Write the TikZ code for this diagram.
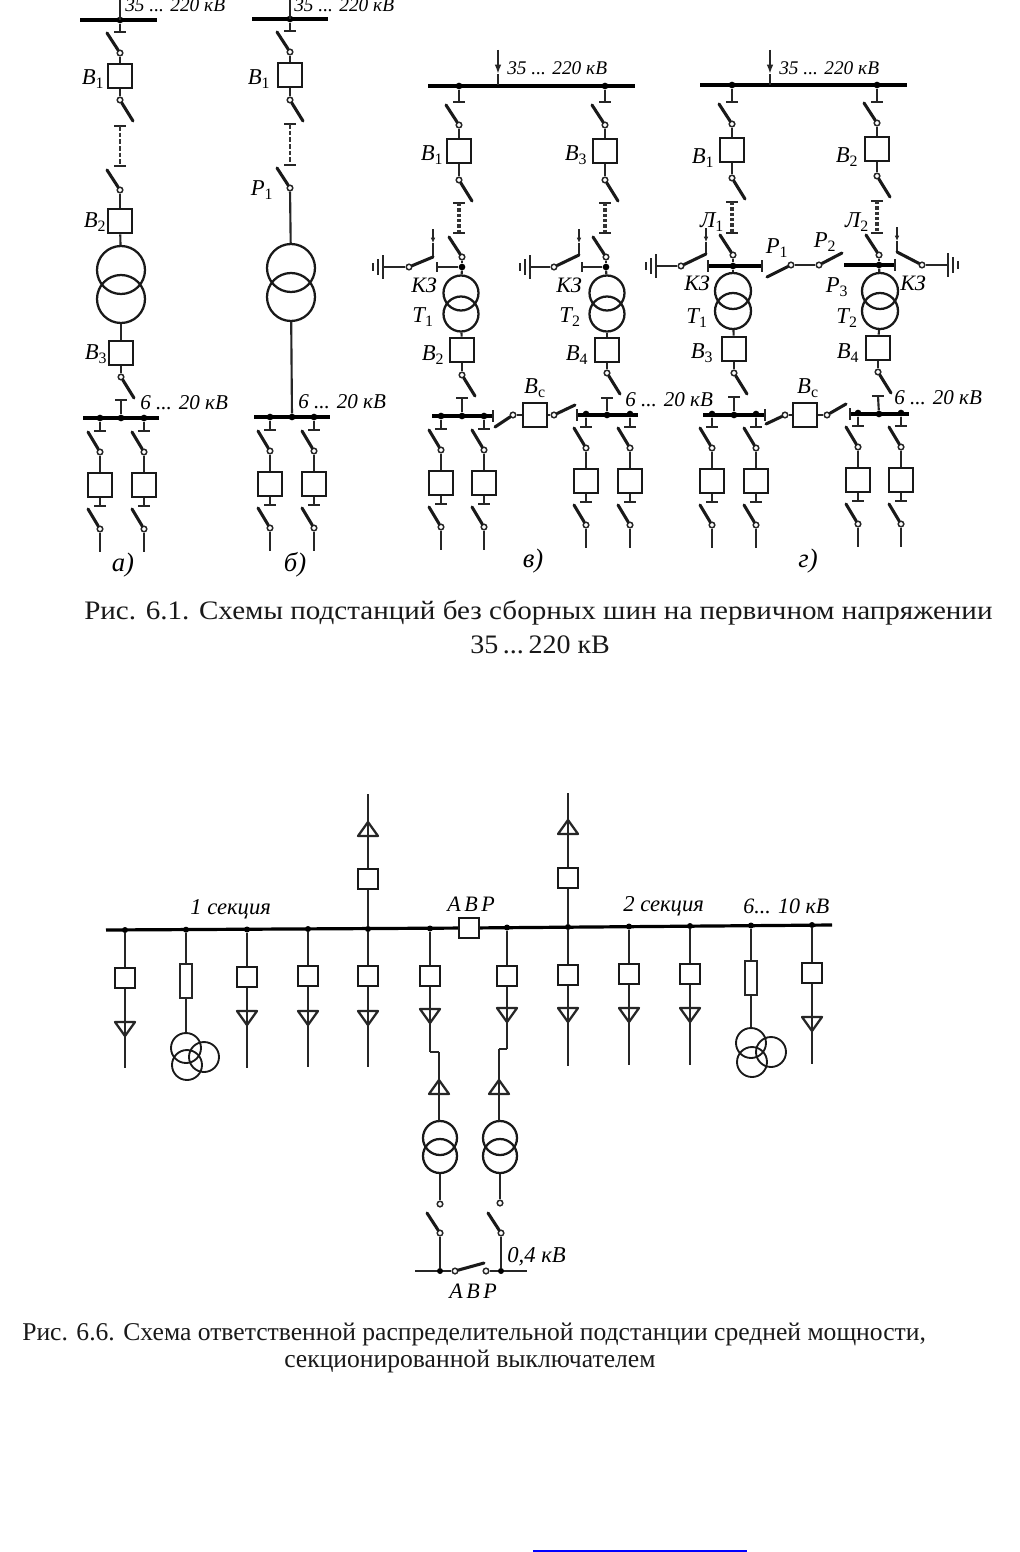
\documentclass[tikz,border=0pt]{standalone}
\usepackage{fontspec}
\setmainfont{Liberation Serif}
\usetikzlibrary{arrows.meta}
\newcounter{lc}
\tikzset{
 wire/.style={line width=1.6pt,black!85},
 busl/.style={line width=3pt,black},
 busn/.style={line width=2.4pt,black},
 blade/.style={line width=2.3pt,black!90,line cap=round},
 tbs/.style={line width=1.7pt,black!85},
 dsha/.style={line width=1.5pt,black!80,dash pattern=on 3.5pt off 1.5pt},
 dshb/.style={line width=2.4pt,black!80,dash pattern=on 2.4pt off 1.6pt},
 brk/.style={draw=black!90,fill=white,line width=2pt,minimum size=18pt,inner sep=0pt},
 brs/.style={draw=black!90,fill=white,line width=1.8pt,minimum size=15pt,inner sep=0pt},
 fuse/.style={draw=black!85,fill=white,line width=1.4pt,minimum width=9pt,minimum height=26pt,inner sep=0pt},
 ct/.style={circle,draw=black!85,fill=white,line width=1.1pt,minimum size=4.2pt,inner sep=0pt},
 dot/.style={circle,fill=black,minimum size=5pt,inner sep=0pt},
 trc/.style={circle,draw=black!90,line width=1.7pt,inner sep=0pt},
 lb/.style={inner sep=0pt,font=\itshape\fontsize{14.5}{18}\selectfont,text=black},
 lbs/.style={inner sep=0pt,font=\itshape\fontsize{15.8}{18}\selectfont,text=black},
 lbk/.style={inner sep=0pt,font=\itshape\fontsize{16.5}{18}\selectfont,text=black},
 lbc/.style={inner sep=0pt,font=\itshape\fontsize{17}{20}\selectfont,text=black},
 lbb/.style={inner sep=0pt,font=\itshape\fontsize{17}{20}\selectfont,text=black},
 lbf/.style={inner sep=0pt,font=\itshape\fontsize{20}{22}\selectfont,text=black},
 captxt/.style={inner sep=0pt,font=\fontsize{20}{22}\selectfont,text=black!90},
 captxs/.style={inner sep=0pt,font=\fontsize{19.2}{22}\selectfont,text=black!90},
}
% horizontal crossbar of a contact
\newcommand{\tbr}[2]{\draw[tbs] (#1-6,#2) -- (#1+6,#2);}
% upper chain: id,x,busY,tb1,c1,boxY,c2,tb2
\newcommand{\upc}[8]{%
 \node[dot] (#1d) at (#2,#3) {};
 \coordinate (#1t) at (#2,#4);
 \draw[wire] (#1d) -- (#1t);
 \tbr{#2}{#4}
 \node[ct] (#1c) at (#2,#5) {};
 \coordinate (#1k) at (#2-13,#5-20);
 \draw[blade] (#1c) -- (#1k);
 \node[brk] (#1b) at (#2,#6) {};
 \draw[wire] (#1c) -- (#1b);
 \node[ct] (#1e) at (#2,#7) {};
 \draw[wire] (#1b) -- (#1e);
 \coordinate (#1m) at (#2+13,#7+21);
 \draw[blade] (#1e) -- (#1m);
 \coordinate (#1v) at (#2,#8);
 \tbr{#2}{#8}
}
% dashed link: [style],id,x,y1,y2
\newcommand{\dsh}[5][dsha]{%
 \coordinate (#2p) at (#3,#4); \coordinate (#2q) at (#3,#5);
 \draw[#1] (#2p) -- (#2q);
 \tbr{#3}{#5}
}
% blade to contact circle: id,x,c
\newcommand{\swc}[3]{%
 \node[ct] (#1) at (#2,#3) {};
 \coordinate (#1k) at (#2-13,#3-20);
 \draw[blade] (#1) -- (#1k);
}
% transformer: id,x,y1,y2,r
\newcommand{\trf}[5]{%
 \node[trc,minimum size={#5*1.5pt}] (#11) at (#2,#3) {};
 \node[trc,minimum size={#5*1.5pt}] (#12) at (#2,#4) {};
}
% box under transformer: id,x,boxY,c,tb
\newcommand{\lowb}[5]{%
 \node[brk] (#1b) at (#2,#3) {};
 \node[ct] (#1c) at (#2,#4) {};
 \draw[wire] (#1b) -- (#1c);
 \coordinate (#1m) at (#2+13,#4+21);
 \draw[blade] (#1c) -- (#1m);
 \coordinate (#1t) at (#2,#5);
 \tbr{#2}{#5}
}
% feeder: id,x,ybus
\newcommand{\fdr}[3]{%
 \node[dot] (#1d) at (#2,#3) {};
 \coordinate (#1t) at (#2,#3+13);
 \draw[wire] (#1d) -- (#1t);
 \tbr{#2}{#3+13}
 \node[ct] (#1c) at (#2,#3+34) {};
 \coordinate (#1k) at (#2-12,#3+14);
 \draw[blade] (#1c) -- (#1k);
 \node[brk] (#1b) at (#2,#3+67) {};
 \draw[wire] (#1c) -- (#1b);
 \coordinate (#1u) at (#2,#3+88);
 \draw[wire] (#1b) -- (#1u);
 \tbr{#2}{#3+88}
 \node[ct] (#1e) at (#2,#3+111) {};
 \coordinate (#1l) at (#2-12,#3+91);
 \draw[blade] (#1e) -- (#1l);
 \coordinate (#1f) at (#2,#3+134);
 \draw[wire] (#1e) -- (#1f);
}
% feed arrow with dart in the stem: id,x,top,dart,bus
\newcommand{\feed}[5]{%
 \coordinate (#1a) at (#2,#3); \coordinate (#1b) at (#2,#4); \coordinate (#1c) at (#2,#5);
 \draw[wire,-{Latex[length=7pt,width=5pt]}] (#1a) -- (#1b);
 \draw[wire] (#1b) -- (#1c);
}
% earthing switch: id,vx,ytop,ybot,cx,y,gx,dir
\newcommand{\kz}[8]{%
 \coordinate (#1a) at (#2,#3); \coordinate (#1b) at (#2,#4); \coordinate (#1s) at (#2,#3+14);
 \draw[wire,-{Latex[length=4pt,width=3.5pt]}] (#1a) -- (#1s);
 \draw[wire] (#1s) -- (#1b);
 \node[ct] (#1c) at (#5,#6) {};
 \draw[blade] (#1c) -- (#1b);
 \coordinate (#1g) at (#7,#6);
 \draw[wire] (#1c) -- (#1g);
 \draw[tbs] (#7,#6-12) -- (#7,#6+12);
 \draw[tbs] (#7+#8*5,#6-8) -- (#7+#8*5,#6+8);
 \draw[tbs] (#7+#8*10,#6-4) -- (#7+#8*10,#6+4);
}
% second figure: branch: id,x,busY,boxY,triY,endY
\newcommand{\brn}[6]{%
 \node[dot,minimum size=4.5pt] (#1d) at (#2,#3) {};
 \node[brs] (#1b) at (#2,#4) {};
 \draw[wire] (#1d) -- (#1b);
 \coordinate (#1f) at (#2,#6);
 \draw[wire] (#1b) -- (#1f);
 \draw[tbs,line join=round] (#2-10,#5) -- (#2+10,#5) -- (#2,#5+14) -- cycle;
}
% up-pointing triangle: x,yapex
\newcommand{\tup}[2]{\draw[tbs,line join=round] (#1-10,#2+14) -- (#1+10,#2+14) -- (#1,#2) -- cycle;}
% upper branch: id,x,busnode,boxY,triApex,top
\newcommand{\upb}[6]{%
 \node[brs] (#1b) at (#2,#4) {};
 \draw[wire] (#3) -- (#1b);
 \coordinate (#1f) at (#2,#6);
 \draw[wire] (#1b) -- (#1f);
 \tup{#2}{#5}
}
% three-winding transformer: id,x,y1,x2,y2,x3,y3
\newcommand{\trth}[7]{%
 \node[trc,line width=1.4pt,minimum size=22.5pt] (#11) at (#2,#3) {};
 \node[trc,line width=1.4pt,minimum size=22.5pt] (#12) at (#4,#5) {};
 \node[trc,line width=1.4pt,minimum size=22.5pt] (#13) at (#6,#7) {};
}
\newcommand{\lab}[4][lb]{\stepcounter{lc}\node[#1,anchor=center] (L\arabic{lc}) at (#2,#3) {#4};}
\newcommand{\labw}[4][lb]{\stepcounter{lc}\node[#1,anchor=west] (L\arabic{lc}) at (#2,#3) {#4};}
\newcommand{\sbb}[1]{\textsubscript{\upshape #1}}
\begin{document}
\begin{tikzpicture}[x=0.75pt,y=-0.75pt]
\useasboundingbox (0,0) rectangle (1020,1552);
\fill[white] (0,0) rectangle (1020,1552);

% ---------- a
\coordinate (aL) at (80,20); \coordinate (aR) at (157,20);
\draw[busl] (aL) -- (aR);
\upc{a1}{120}{20}{32}{53}{76}{100}{126}
\dsh{a2}{120}{126}{166}
\swc{a3}{120}{190}
\node[brk] (aB2) at (120,221) {};
\draw[wire] (a3) -- (aB2);
\trf{aT}{121}{270}{299}{24}
\draw[wire] (aB2) -- (aT1);
\lowb{aB3}{121}{353}{377}{400}
\draw[wire] (aT2) -- (aB3b);
\coordinate (aL2) at (83,418); \coordinate (aR2) at (159,418);
\draw[busl,line width=2.6pt] (aL2) -- (aR2);
\node[dot] (aD) at (121,418) {};
\draw[wire] (aD) -- (aB3t);
\fdr{a4}{100}{418}
\fdr{a5}{144}{418}
\coordinate (aFa) at (120,-2); \coordinate (aFb) at (120,20);
\draw[wire,line width=2.2pt] (aFa) -- (aFb);

% ---------- b
\coordinate (bL) at (252,19); \coordinate (bR) at (328,19);
\draw[busl] (bL) -- (bR);
\upc{b1}{290}{19}{31}{52}{75}{100}{124}
\dsh{b2}{290}{124}{165}
\swc{b3}{290}{188}
\trf{bT}{291}{268}{297}{24}
\draw[wire] (b3) -- (bT1);
\coordinate (bL2) at (254,417); \coordinate (bR2) at (330,417);
\draw[busl,line width=2.6pt] (bL2) -- (bR2);
\node[dot] (bD) at (292,417) {};
\draw[wire] (bT2) -- (bD);
\fdr{b4}{270}{417}
\fdr{b5}{314}{417}
\coordinate (bFa) at (290,-2); \coordinate (bFb) at (290,19);
\draw[wire,line width=2.2pt] (bFa) -- (bFb);

% ---------- v
\coordinate (vL) at (428,86); \coordinate (vR) at (635,86);
\draw[busl] (vL) -- (vR);
\feed{vF}{498}{50}{74}{85}
\upc{v1}{459}{86}{102}{125}{151}{180}{203}
\dsh[dshb]{v2}{459}{203}{233}
\swc{v3}{462}{257}
\node[dot] (vJ1) at (462,267) {};
\draw[wire] (v3) -- (vJ1);
\trf{vT}{461}{293}{314}{17.5}
\draw[wire] (vJ1) -- (vT1);
\coordinate (vK1t) at (437,267);
\draw[wire] (vJ1) -- (vK1t);
\draw[tbs] (437,262) -- (437,272);
\kz{vK1}{433}{229}{257}{409}{267}{383}{-1}
\upc{v4}{605}{86}{102}{125}{151}{180}{203}
\dsh[dshb]{v5}{605}{203}{233}
\swc{v6}{606}{257}
\node[dot] (vJ2) at (606,267) {};
\draw[wire] (v6) -- (vJ2);
\trf{vU}{607}{293}{314}{17.5}
\draw[wire] (vJ2) -- (vU1);
\coordinate (vK2t) at (582,267);
\draw[wire] (vJ2) -- (vK2t);
\draw[tbs] (582,262) -- (582,272);
\kz{vK2}{579}{229}{255}{554}{267}{530}{-1}
\lowb{vB2}{462}{350}{375}{398}
\draw[wire] (vT2) -- (vB2b);
\lowb{vB4}{607}{350}{373}{398}
\draw[wire] (vU2) -- (vB4b);
\coordinate (vL2) at (432,416); \coordinate (vR2) at (493,416);
\draw[busl,line width=2.8pt] (vL2) -- (vR2);
\draw[tbs] (493,410) -- (493,422);
\node[dot] (vD1) at (462,416) {};
\draw[wire] (vD1) -- (vB2t);
\fdr{v7}{441}{416}
\fdr{v8}{484}{416}
\coordinate (vL3) at (577,415); \coordinate (vR3) at (638,415);
\draw[busl,line width=2.8pt] (vL3) -- (vR3);
\draw[tbs] (577,409) -- (577,421);
\node[dot] (vD2) at (607,415) {};
\draw[wire] (vD2) -- (vB4t);
\fdr{v9}{586}{414}
\fdr{v0}{630}{414}
\node[brk] (vBc) at (535,415) {};
\node[ct] (vC1) at (513,415) {};
\node[ct] (vC2) at (554,415) {};
\draw[wire] (vC1) -- (vBc);
\draw[wire] (vBc) -- (vC2);
\coordinate (vS1) at (495,427); \coordinate (vS2) at (575,405);
\draw[blade] (vC1) -- (vS1);
\draw[blade] (vC2) -- (vS2);

% ---------- g
\coordinate (gL) at (700,85); \coordinate (gR) at (907,85);
\draw[busl] (gL) -- (gR);
\feed{gF}{770}{50}{74}{85}
\upc{g1}{732}{85}{102}{124}{150}{178}{202}
\dsh[dshb]{g2}{732}{202}{233}
\swc{g3}{733}{255}
\coordinate (gL1) at (708,266); \coordinate (gR1) at (762,266);
\draw[busl] (gL1) -- (gR1);
\draw[tbs] (708,260) -- (708,272);
\draw[tbs] (762,260) -- (762,272);
\node[dot] (gJ1) at (733,266) {};
\draw[wire] (g3) -- (gJ1);
\trf{gT}{733}{291}{311}{18}
\draw[wire] (gJ1) -- (gT1);
\kz{gK1}{706}{228}{254}{681}{266}{656}{-1}
\upc{g4}{877}{85}{102}{123}{149}{176}{201}
\dsh[dshb]{g5}{877}{201}{233}
\swc{g6}{879}{255}
\coordinate (gL3) at (844,265); \coordinate (gR3) at (895,265);
\draw[busl] (gL3) -- (gR3);
\draw[tbs] (895,259) -- (895,271);
\node[dot] (gJ2) at (879,265) {};
\draw[wire] (g6) -- (gJ2);
\trf{gU}{880}{291}{311}{18}
\draw[wire] (gJ2) -- (gU1);
% right earthing switch
\coordinate (gK2a) at (897,227); \coordinate (gK2b) at (897,252); \coordinate (gK2s) at (897,241);
\draw[wire,-{Latex[length=4pt,width=3.5pt]}] (gK2a) -- (gK2s);
\draw[wire] (gK2s) -- (gK2b);
\node[ct] (gK2c) at (922,265) {};
\draw[blade] (gK2c) -- (gK2b);
\coordinate (gK2g) at (948,265);
\draw[wire] (gK2c) -- (gK2g);
\draw[tbs] (948,253) -- (948,277);
\draw[tbs] (953,257) -- (953,273);
\draw[tbs] (958,261) -- (958,269);
% P1, P2
\node[ct] (gP1) at (791,265) {};
\node[ct] (gP2) at (819,265) {};
\draw[wire] (gP1) -- (gP2);
\coordinate (gP1k) at (767,277); \coordinate (gP2k) at (842,253);
\draw[blade] (gP1) -- (gP1k);
\draw[blade] (gP2) -- (gP2k);
\lowb{gB3}{734}{349}{373}{397}
\draw[wire] (gT2) -- (gB3b);
\lowb{gB4}{878}{348}{372}{396}
\draw[wire] (gU2) -- (gB4b);
\coordinate (gL4) at (703,415); \coordinate (gR4) at (765,415);
\draw[busl,line width=2.8pt] (gL4) -- (gR4);
\draw[tbs] (765,409) -- (765,421);
\node[dot] (gD1) at (734,415) {};
\draw[wire] (gD1) -- (gB3t);
\fdr{g7}{712}{414}
\fdr{g8}{756}{414}
\coordinate (gL5) at (850,414); \coordinate (gR5) at (909,414);
\draw[busl,line width=2.8pt] (gL5) -- (gR5);
\draw[tbs] (850,408) -- (850,420);
\node[dot] (gD2) at (879,414) {};
\draw[wire] (gD2) -- (gB4t);
\fdr{g9}{858}{413}
\fdr{g0}{901}{413}
\node[brk] (gBc) at (805,415) {};
\node[ct] (gC1) at (785,415) {};
\node[ct] (gC2) at (827,415) {};
\draw[wire] (gC1) -- (gBc);
\draw[wire] (gBc) -- (gC2);
\coordinate (gS1) at (766,424); \coordinate (gS2) at (846,404);
\draw[blade] (gC1) -- (gS1);
\draw[blade] (gC2) -- (gS2);

% labels fig 6.1
\labw{125}{5}{35 ... 220 кВ}
\labw{294}{5}{35 ... 220 кВ}
\labw{507}{68}{35 ... 220 кВ}
\labw{779}{68}{35 ... 220 кВ}
\labw[lbs]{140}{403}{6 ... 20 кВ}
\labw[lbs]{298}{402}{6 ... 20 кВ}
\labw[lbs]{625}{400}{6 ... 20 кВ}
\labw[lbs]{894}{398}{6 ... 20 кВ}
\lab[lbb]{93}{79}{В\sbb{1}}
\lab[lbb]{95}{222}{В\sbb{2}}
\lab[lbb]{96}{354}{В\sbb{3}}
\lab[lbb]{259}{79}{В\sbb{1}}
\lab[lbb]{262}{190}{Р\sbb{1}}
\lab[lbb]{432}{155}{В\sbb{1}}
\lab[lbb]{576}{155}{В\sbb{3}}
\lab[lbk]{424}{285}{КЗ}
\lab[lbk]{569}{285}{КЗ}
\lab[lbb]{423}{317}{Т\sbb{1}}
\lab[lbb]{570}{317}{Т\sbb{2}}
\lab[lbb]{433}{355}{В\sbb{2}}
\lab[lbb]{577}{355}{В\sbb{4}}
\lab[lbb]{535}{388}{В\sbb{с}}
\lab[lbb]{703}{158}{В\sbb{1}}
\lab[lbb]{847}{157}{В\sbb{2}}
\lab[lbb]{712}{222}{Л\sbb{1}}
\lab[lbb]{857}{222}{Л\sbb{2}}
\lab[lbb]{777}{248}{Р\sbb{1}}
\lab[lbb]{825}{242}{Р\sbb{2}}
\lab[lbb]{837}{287}{Р\sbb{3}}
\lab[lbk]{697}{283}{КЗ}
\lab[lbk]{913}{283}{КЗ}
\lab[lbb]{697}{318}{Т\sbb{1}}
\lab[lbb]{847}{318}{Т\sbb{2}}
\lab[lbb]{702}{353}{В\sbb{3}}
\lab[lbb]{848}{353}{В\sbb{4}}
\lab[lbb]{808}{388}{В\sbb{с}}
\lab[lbf]{123}{565}{а)}
\lab[lbf]{295}{565}{б)}
\lab[lbf]{533}{561}{в)}
\lab[lbf]{808}{561}{г)}
\labw[captxt]{84}{613}{\scalebox{1.09}[1]{Рис. 6.1. Схемы подстанций без сборных шин на первичном напряжении}}
\labw[captxt]{470}{645}{\scalebox{1.05}[1]{35\,...\,220 кВ}}

% ---------- fig 6.6
\node[brs] (ABR) at (469,928) {};
\coordinate (nL) at (106,930); \coordinate (nR) at (832,925);
\draw[busn] (nL) -- (ABR);
\draw[busn] (ABR) -- (nR);
\brn{n1}{125}{930}{978}{1022}{1068}
\brn{n3}{247}{929.5}{977}{1011}{1068}
\brn{n4}{308}{929}{976}{1011}{1067}
\brn{n5}{368}{929}{976}{1011}{1067}
\brn{n6}{430}{928.5}{976}{1009}{1052}
\brn{n7}{507}{927.5}{976}{1008}{1049}
\brn{n8}{568}{927}{975}{1008}{1066}
\brn{n9}{629}{926.5}{974}{1008}{1065}
\brn{n0}{690}{926}{974}{1008}{1065}
\brn{nq}{812}{925}{973}{1017}{1064}
\upb{u5}{368}{n5d}{879}{822}{794}
\upb{u8}{568}{n8d}{878}{820}{793}
% fuses and three-winding transformers
\node[dot,minimum size=4.5pt] (f1d) at (186,929.7) {};
\node[fuse] (f1) at (186,981) {};
\draw[wire] (f1d) -- (f1);
\trth{f1t}{186}{1048}{187}{1065}{204}{1057}
\draw[wire] (f1) -- (f1t1);
\node[dot,minimum size=4.5pt] (f2d) at (751,925.5) {};
\node[fuse] (f2) at (751,978) {};
\draw[wire] (f2d) -- (f2);
\trth{f2t}{751}{1043}{752}{1062}{771}{1052}
\draw[wire] (f2) -- (f2t1);
% lower transformers
\coordinate (j1) at (439,1052); \coordinate (j2) at (499,1049);
\draw[wire] (n6f) -- (j1);
\draw[wire] (n7f) -- (j2);
\trf{p1}{440}{1138}{1156}{17}
\trf{p2}{500}{1138}{1156}{17}
\coordinate (j1b) at (439,1121); \coordinate (j2b) at (499,1121);
\draw[wire] (j1) -- (j1b);
\draw[wire] (j2) -- (j2b);
\tup{439}{1080}
\tup{499}{1080}
\node[ct] (p1c) at (440,1204) {};
\node[ct] (p2c) at (500,1203) {};
\draw[wire] (p12) -- (p1c);
\draw[wire] (p22) -- (p2c);
\swc{q1}{440}{1233}
\swc{q2}{501}{1233}
\coordinate (sL) at (415,1271); \coordinate (sR) at (527,1271);
\node[ct] (sa) at (455,1271) {};
\node[ct] (sb) at (486,1271) {};
\draw[wire] (sL) -- (sa);
\draw[wire] (sb) -- (sR);
\node[dot,minimum size=4.5pt] (qd1) at (440,1271) {};
\node[dot,minimum size=4.5pt] (qd2) at (501,1271) {};
\draw[wire] (q1) -- (qd1);
\draw[wire] (q2) -- (qd2);
\coordinate (sK) at (484,1263);
\draw[blade] (sa) -- (sK);
\labw[lbc]{190}{909}{1 секция}
\labw[lbk]{447}{904}{А\,В\,Р}
\labw[lbc]{623}{906}{2 секция}
\labw[lbk]{743}{906}{6... 10 кВ}
\labw[lbc]{507}{1257}{0,4 кВ}
\labw[lbk]{449}{1291}{А\,В\,Р}
\labw[captxs]{22}{1334}{Рис. 6.6. Схема ответственной распределительной подстанции средней мощности,}
\labw[captxs]{284}{1361}{секционированной выключателем}
% link underline
\coordinate (uL) at (533,1551); \coordinate (uR) at (747,1551);
\draw[line width=1.5pt,blue] (uL) -- (uR);
\end{tikzpicture}
\end{document}
